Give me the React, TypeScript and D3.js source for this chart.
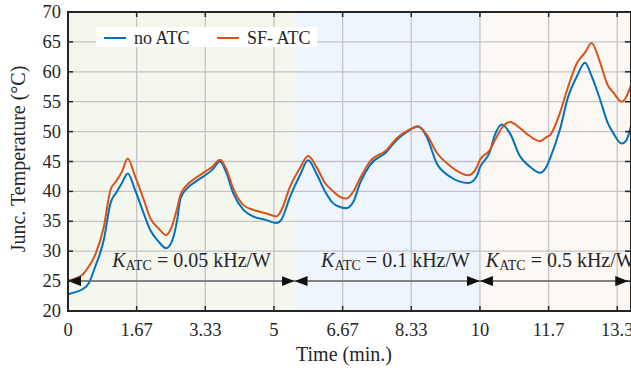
import React, { useEffect, useRef } from "react";
import * as d3 from "d3";

const timeMin = [0, 0.2, 0.34, 0.5, 0.66, 0.87, 1.03, 1.19, 1.31, 1.45, 1.63, 1.84, 2.0, 2.2, 2.38, 2.52, 2.65, 2.73, 2.89, 3.09, 3.33, 3.5, 3.69, 3.85, 4.01, 4.26, 4.5, 4.82, 5.06, 5.19, 5.39, 5.63, 5.83, 6.03, 6.24, 6.44, 6.6, 6.76, 6.93, 7.09, 7.33, 7.73, 7.98, 8.2, 8.5, 8.71, 8.95, 9.27, 9.72, 9.92, 10.0, 10.24, 10.36, 10.53, 10.73, 10.97, 11.2, 11.46, 11.62, 11.7, 11.94, 12.14, 12.35, 12.55, 12.71, 12.91, 13.1, 13.24, 13.44, 13.55, 13.67];
const noATC = [22.8, 23.2, 23.6, 24.6, 27.4, 31.9, 38.0, 40.0, 41.4, 43.0, 40.2, 36.3, 33.5, 31.6, 30.5, 31.6, 35.2, 38.8, 40.5, 41.6, 42.7, 43.6, 45.0, 43.0, 39.7, 36.9, 35.8, 35.2, 34.7, 35.4, 39.1, 42.7, 45.2, 43.0, 40.0, 38.0, 37.4, 37.2, 38.3, 41.4, 44.4, 46.6, 48.6, 49.8, 50.9, 49.1, 44.7, 42.5, 41.4, 42.5, 44.0, 46.6, 49.4, 51.2, 49.7, 45.9, 44.2, 43.1, 44.2, 45.5, 50.3, 55.8, 59.2, 61.5, 59.3, 55.5, 51.5, 49.7, 48.0, 48.5, 51.0];
const sfATC = [25.1, 25.5, 26.0, 27.4, 29.4, 34.1, 40.2, 41.9, 43.3, 45.5, 42.5, 38.6, 35.5, 33.8, 32.7, 34.1, 37.2, 39.4, 41.1, 42.2, 43.3, 44.1, 45.3, 43.6, 40.5, 37.7, 36.9, 36.3, 35.8, 37.0, 40.8, 43.9, 45.9, 44.1, 41.4, 40.0, 39.1, 38.8, 40.0, 42.2, 45.0, 46.9, 48.9, 50.0, 50.8, 49.5, 46.5, 44.3, 42.7, 44.0, 45.3, 46.9, 48.5, 50.6, 51.6, 50.6, 49.3, 48.4, 49.1, 49.4, 53.1, 57.5, 61.4, 63.2, 64.8, 61.7, 57.8, 56.5, 55.0, 55.8, 57.8];

const xTickValues = [0, 100 / 60, 200 / 60, 5, 400 / 60, 500 / 60, 10, 700 / 60, 800 / 60];
const xTickLabels = ["0", "1.67", "3.33", "5", "6.67", "8.33", "10", "11.7", "13.3"];
const yTickValues = [20, 25, 30, 35, 40, 45, 50, 55, 60, 65, 70];

const regionStarts = [0, 5.5, 10];
const regionEnds = [5.5, 10, 13.667];
const regionColors = ["#F4F7EE", "#EFF5FC", "#FEF8F4"];
const regionGains = ["0.05", "0.1", "0.5"];
const regionLabelCenters = [3.0, 7.95, 11.95];

const seriesNames = ["no ATC", "SF- ATC"];
const seriesColors = ["#0072BD", "#D95319"];

export default function App() {
  const ref = useRef<SVGSVGElement>(null);
  const W = 631, H = 371;
  const m = { left: 68, top: 12, right: 631, bottom: 311 };

  useEffect(() => {
    const svg = d3.select(ref.current);
    svg.selectAll("*").remove();
    const x = d3.scaleLinear().domain([0, 13.667]).range([m.left, m.right]);
    const y = d3.scaleLinear().domain([20, 70]).range([m.bottom, m.top]);
    const font = "'Liberation Serif', 'Times New Roman', serif";

    regionStarts.forEach((s, i) => {
      svg.append("rect")
        .attr("x", x(s)).attr("y", m.top)
        .attr("width", x(regionEnds[i]) - x(s)).attr("height", m.bottom - m.top)
        .attr("fill", regionColors[i]);
    });

    const g = svg.append("g");
    xTickValues.forEach((t) => {
      g.append("line").attr("x1", x(t)).attr("x2", x(t)).attr("y1", m.top).attr("y2", m.bottom)
        .attr("stroke", "#c4c4c4").attr("stroke-width", 1.3);
    });
    yTickValues.forEach((v) => {
      g.append("line").attr("x1", m.left).attr("x2", m.right).attr("y1", y(v)).attr("y2", y(v))
        .attr("stroke", "#c4c4c4").attr("stroke-width", 1.3);
    });

    const series = [noATC, sfATC];
    series.forEach((vals, si) => {
      const line = d3.line<number>().x((_, i) => x(timeMin[i])).y((d) => y(d)).curve(d3.curveMonotoneX);
      svg.append("path").attr("d", line(vals) as string).attr("fill", "none")
        .attr("stroke", seriesColors[si]).attr("stroke-width", 2);
    });

    const defs = svg.append("defs");
    defs.append("marker").attr("id", "ah").attr("viewBox", "0 0 13 10").attr("refX", 13).attr("refY", 5)
      .attr("markerWidth", 13).attr("markerHeight", 10).attr("markerUnits", "userSpaceOnUse")
      .attr("orient", "auto-start-reverse")
      .append("path").attr("d", "M0,0 L13,5 L0,10 Z").attr("fill", "#111");
    regionStarts.forEach((s, i) => {
      const e = regionEnds[i] > 13.5 ? 13.6 : regionEnds[i];
      svg.append("line").attr("x1", x(s)).attr("x2", x(e)).attr("y1", y(25)).attr("y2", y(25))
        .attr("stroke", "#666").attr("stroke-width", 1.5)
        .attr("marker-start", "url(#ah)").attr("marker-end", "url(#ah)");
      const t = svg.append("text").attr("x", x(regionLabelCenters[i])).attr("y", 267)
        .attr("text-anchor", "middle").attr("font-family", font).attr("font-size", 20).attr("fill", "#262626");
      t.append("tspan").attr("font-style", "italic").text("K");
      t.append("tspan").attr("font-size", 14).attr("dy", 3).text("ATC");
      t.append("tspan").attr("dy", -3).text(` = ${regionGains[i]} kHz/W`);
    });

    svg.append("rect").attr("x", m.left).attr("y", m.top).attr("width", m.right - m.left).attr("height", m.bottom - m.top)
      .attr("fill", "none").attr("stroke", "#262626").attr("stroke-width", 2);

    xTickValues.forEach((t, i) => {
      svg.append("line").attr("x1", x(t)).attr("x2", x(t)).attr("y1", m.bottom).attr("y2", m.bottom - 5).attr("stroke", "#262626").attr("stroke-width", 1.5);
      svg.append("line").attr("x1", x(t)).attr("x2", x(t)).attr("y1", m.top).attr("y2", m.top + 5).attr("stroke", "#262626").attr("stroke-width", 1.5);
      svg.append("text").attr("x", x(t)).attr("y", 336).attr("text-anchor", "middle")
        .attr("font-family", font).attr("font-size", 18.5).attr("fill", "#262626").text(xTickLabels[i]);
    });
    yTickValues.forEach((v) => {
      svg.append("line").attr("x1", m.left).attr("x2", m.left + 5).attr("y1", y(v)).attr("y2", y(v)).attr("stroke", "#262626").attr("stroke-width", 1.5);
      svg.append("line").attr("x1", m.right - 1).attr("x2", m.right - 6).attr("y1", y(v)).attr("y2", y(v)).attr("stroke", "#262626").attr("stroke-width", 1.5);
      svg.append("text").attr("x", 61).attr("y", y(v) + 6).attr("text-anchor", "end")
        .attr("font-family", font).attr("font-size", 18.5).attr("fill", "#262626").text(String(v));
    });

    svg.append("text").attr("x", 344).attr("y", 361).attr("text-anchor", "middle")
      .attr("font-family", font).attr("font-size", 20).attr("fill", "#262626").text("Time (min.)");
    svg.append("text").attr("transform", "translate(25,159) rotate(-90)").attr("text-anchor", "middle")
      .attr("font-family", font).attr("font-size", 20).attr("fill", "#262626").text("Junc. Temperature (°C)");

    svg.append("rect").attr("x", 96).attr("y", 27).attr("width", 221).attr("height", 20).attr("fill", "#fff");
    const lx = [104, 217];
    seriesNames.forEach((n, i) => {
      svg.append("line").attr("x1", lx[i]).attr("x2", lx[i] + 22).attr("y1", 38).attr("y2", 38)
        .attr("stroke", seriesColors[i]).attr("stroke-width", 2);
      svg.append("text").attr("x", lx[i] + 30).attr("y", 44).attr("font-family", font).attr("font-size", 18)
        .attr("fill", "#262626").text(n);
    });
  }, []);

  return <svg ref={ref} width={W} height={H} style={{ position: "absolute", left: 0, top: 0 }} />;
}
